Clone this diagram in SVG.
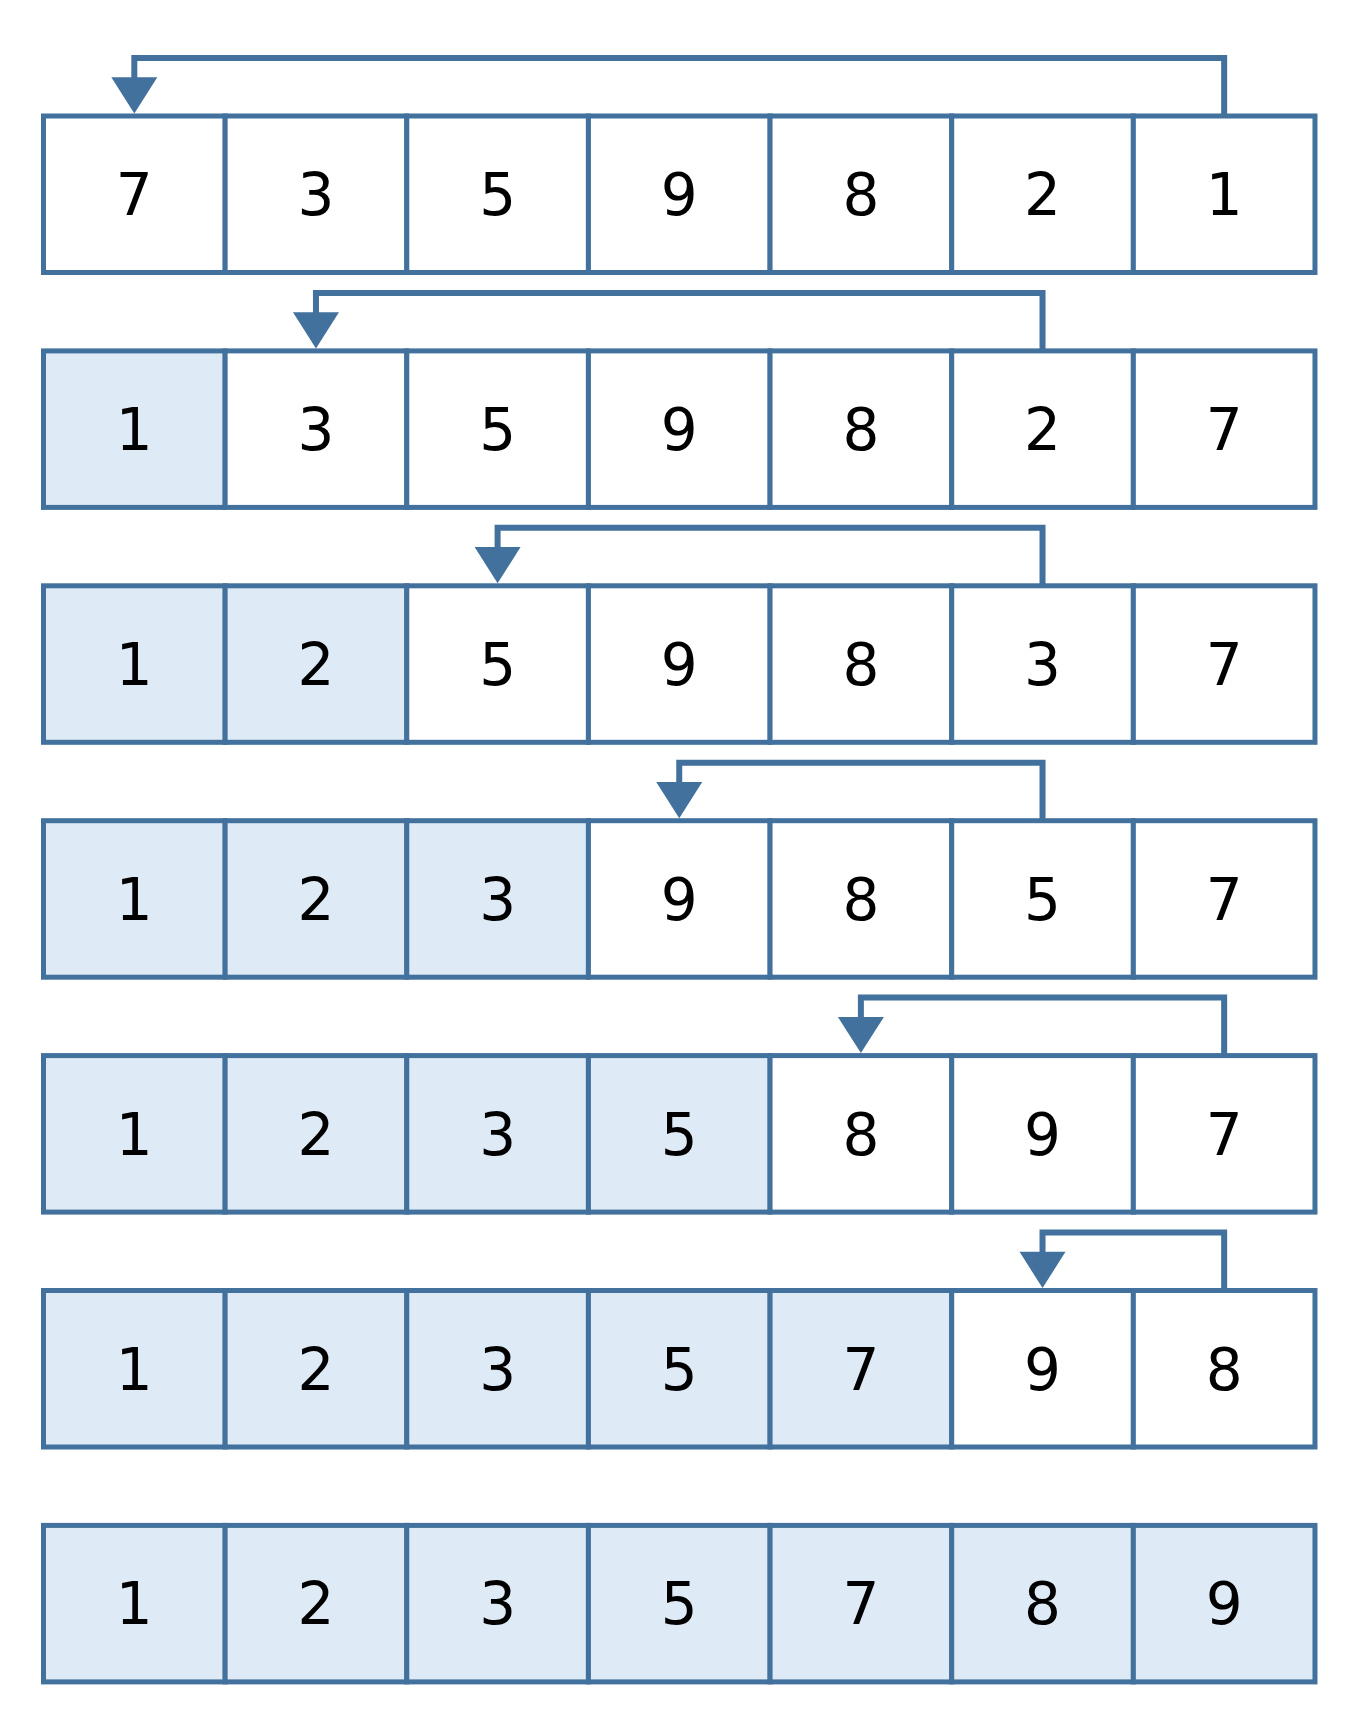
<svg xmlns="http://www.w3.org/2000/svg" width="1355" height="1723" viewBox="0 0 1355 1723">
<style>
.c{fill:#FFFFFF;stroke:#41719C;stroke-width:5}
.s{fill:#DEEAF6;stroke:#41719C;stroke-width:5}
.t{font-family:"DejaVu Sans","Verdana",sans-serif;font-size:58px;fill:#000000;text-anchor:middle}
.ln{fill:none;stroke:#41719C;stroke-width:6;stroke-linejoin:miter}
.ah{fill:#41719C;stroke:none}
</style>
<rect x="0" y="0" width="1355" height="1723" fill="#FFFFFF"/>
<g id="row1">
<rect class="c" x="43.5" y="116" width="181.64" height="156.5"/><text class="t" x="134.32" y="215">7</text>
<rect class="c" x="225.14" y="116" width="181.64" height="156.5"/><text class="t" x="315.96" y="215">3</text>
<rect class="c" x="406.78" y="116" width="181.64" height="156.5"/><text class="t" x="497.6" y="215">5</text>
<rect class="c" x="588.42" y="116" width="181.64" height="156.5"/><text class="t" x="679.24" y="215">9</text>
<rect class="c" x="770.06" y="116" width="181.64" height="156.5"/><text class="t" x="860.88" y="215">8</text>
<rect class="c" x="951.7" y="116" width="181.64" height="156.5"/><text class="t" x="1042.52" y="215">2</text>
<rect class="c" x="1133.34" y="116" width="181.64" height="156.5"/><text class="t" x="1224.16" y="215">1</text>
</g>
<g id="row2">
<rect class="s" x="43.5" y="350.9" width="181.64" height="156.5"/><text class="t" x="134.32" y="449.9">1</text>
<rect class="c" x="225.14" y="350.9" width="181.64" height="156.5"/><text class="t" x="315.96" y="449.9">3</text>
<rect class="c" x="406.78" y="350.9" width="181.64" height="156.5"/><text class="t" x="497.6" y="449.9">5</text>
<rect class="c" x="588.42" y="350.9" width="181.64" height="156.5"/><text class="t" x="679.24" y="449.9">9</text>
<rect class="c" x="770.06" y="350.9" width="181.64" height="156.5"/><text class="t" x="860.88" y="449.9">8</text>
<rect class="c" x="951.7" y="350.9" width="181.64" height="156.5"/><text class="t" x="1042.52" y="449.9">2</text>
<rect class="c" x="1133.34" y="350.9" width="181.64" height="156.5"/><text class="t" x="1224.16" y="449.9">7</text>
</g>
<g id="row3">
<rect class="s" x="43.5" y="585.8" width="181.64" height="156.5"/><text class="t" x="134.32" y="684.8">1</text>
<rect class="s" x="225.14" y="585.8" width="181.64" height="156.5"/><text class="t" x="315.96" y="684.8">2</text>
<rect class="c" x="406.78" y="585.8" width="181.64" height="156.5"/><text class="t" x="497.6" y="684.8">5</text>
<rect class="c" x="588.42" y="585.8" width="181.64" height="156.5"/><text class="t" x="679.24" y="684.8">9</text>
<rect class="c" x="770.06" y="585.8" width="181.64" height="156.5"/><text class="t" x="860.88" y="684.8">8</text>
<rect class="c" x="951.7" y="585.8" width="181.64" height="156.5"/><text class="t" x="1042.52" y="684.8">3</text>
<rect class="c" x="1133.34" y="585.8" width="181.64" height="156.5"/><text class="t" x="1224.16" y="684.8">7</text>
</g>
<g id="row4">
<rect class="s" x="43.5" y="820.7" width="181.64" height="156.5"/><text class="t" x="134.32" y="919.7">1</text>
<rect class="s" x="225.14" y="820.7" width="181.64" height="156.5"/><text class="t" x="315.96" y="919.7">2</text>
<rect class="s" x="406.78" y="820.7" width="181.64" height="156.5"/><text class="t" x="497.6" y="919.7">3</text>
<rect class="c" x="588.42" y="820.7" width="181.64" height="156.5"/><text class="t" x="679.24" y="919.7">9</text>
<rect class="c" x="770.06" y="820.7" width="181.64" height="156.5"/><text class="t" x="860.88" y="919.7">8</text>
<rect class="c" x="951.7" y="820.7" width="181.64" height="156.5"/><text class="t" x="1042.52" y="919.7">5</text>
<rect class="c" x="1133.34" y="820.7" width="181.64" height="156.5"/><text class="t" x="1224.16" y="919.7">7</text>
</g>
<g id="row5">
<rect class="s" x="43.5" y="1055.6" width="181.64" height="156.5"/><text class="t" x="134.32" y="1154.6">1</text>
<rect class="s" x="225.14" y="1055.6" width="181.64" height="156.5"/><text class="t" x="315.96" y="1154.6">2</text>
<rect class="s" x="406.78" y="1055.6" width="181.64" height="156.5"/><text class="t" x="497.6" y="1154.6">3</text>
<rect class="s" x="588.42" y="1055.6" width="181.64" height="156.5"/><text class="t" x="679.24" y="1154.6">5</text>
<rect class="c" x="770.06" y="1055.6" width="181.64" height="156.5"/><text class="t" x="860.88" y="1154.6">8</text>
<rect class="c" x="951.7" y="1055.6" width="181.64" height="156.5"/><text class="t" x="1042.52" y="1154.6">9</text>
<rect class="c" x="1133.34" y="1055.6" width="181.64" height="156.5"/><text class="t" x="1224.16" y="1154.6">7</text>
</g>
<g id="row6">
<rect class="s" x="43.5" y="1290.5" width="181.64" height="156.5"/><text class="t" x="134.32" y="1389.5">1</text>
<rect class="s" x="225.14" y="1290.5" width="181.64" height="156.5"/><text class="t" x="315.96" y="1389.5">2</text>
<rect class="s" x="406.78" y="1290.5" width="181.64" height="156.5"/><text class="t" x="497.6" y="1389.5">3</text>
<rect class="s" x="588.42" y="1290.5" width="181.64" height="156.5"/><text class="t" x="679.24" y="1389.5">5</text>
<rect class="s" x="770.06" y="1290.5" width="181.64" height="156.5"/><text class="t" x="860.88" y="1389.5">7</text>
<rect class="c" x="951.7" y="1290.5" width="181.64" height="156.5"/><text class="t" x="1042.52" y="1389.5">9</text>
<rect class="c" x="1133.34" y="1290.5" width="181.64" height="156.5"/><text class="t" x="1224.16" y="1389.5">8</text>
</g>
<g id="row7">
<rect class="s" x="43.5" y="1525.4" width="181.64" height="156.5"/><text class="t" x="134.32" y="1624.4">1</text>
<rect class="s" x="225.14" y="1525.4" width="181.64" height="156.5"/><text class="t" x="315.96" y="1624.4">2</text>
<rect class="s" x="406.78" y="1525.4" width="181.64" height="156.5"/><text class="t" x="497.6" y="1624.4">3</text>
<rect class="s" x="588.42" y="1525.4" width="181.64" height="156.5"/><text class="t" x="679.24" y="1624.4">5</text>
<rect class="s" x="770.06" y="1525.4" width="181.64" height="156.5"/><text class="t" x="860.88" y="1624.4">7</text>
<rect class="s" x="951.7" y="1525.4" width="181.64" height="156.5"/><text class="t" x="1042.52" y="1624.4">8</text>
<rect class="s" x="1133.34" y="1525.4" width="181.64" height="156.5"/><text class="t" x="1224.16" y="1624.4">9</text>
</g>
<g id="connectors">
<polyline class="ln" points="1224.16,117 1224.16,58 134.32,58 134.32,78"/>
<polygon class="ah" points="111.32,77.3 157.32,77.3 134.32,113.5"/>
<polyline class="ln" points="1042.52,352 1042.52,292.9 315.96,292.9 315.96,313"/>
<polygon class="ah" points="292.96,312.2 338.96,312.2 315.96,348.4"/>
<polyline class="ln" points="1042.52,587 1042.52,527.8 497.6,527.8 497.6,548"/>
<polygon class="ah" points="474.6,547.1 520.6,547.1 497.6,583.3"/>
<polyline class="ln" points="1042.52,822 1042.52,762.7 679.24,762.7 679.24,783"/>
<polygon class="ah" points="656.24,782 702.24,782 679.24,818.2"/>
<polyline class="ln" points="1224.16,1057 1224.16,997.6 860.88,997.6 860.88,1018"/>
<polygon class="ah" points="837.88,1016.9 883.88,1016.9 860.88,1053.1"/>
<polyline class="ln" points="1224.16,1292 1224.16,1232.5 1042.52,1232.5 1042.52,1252"/>
<polygon class="ah" points="1019.52,1251.8 1065.52,1251.8 1042.52,1288"/>
</g>
</svg>
